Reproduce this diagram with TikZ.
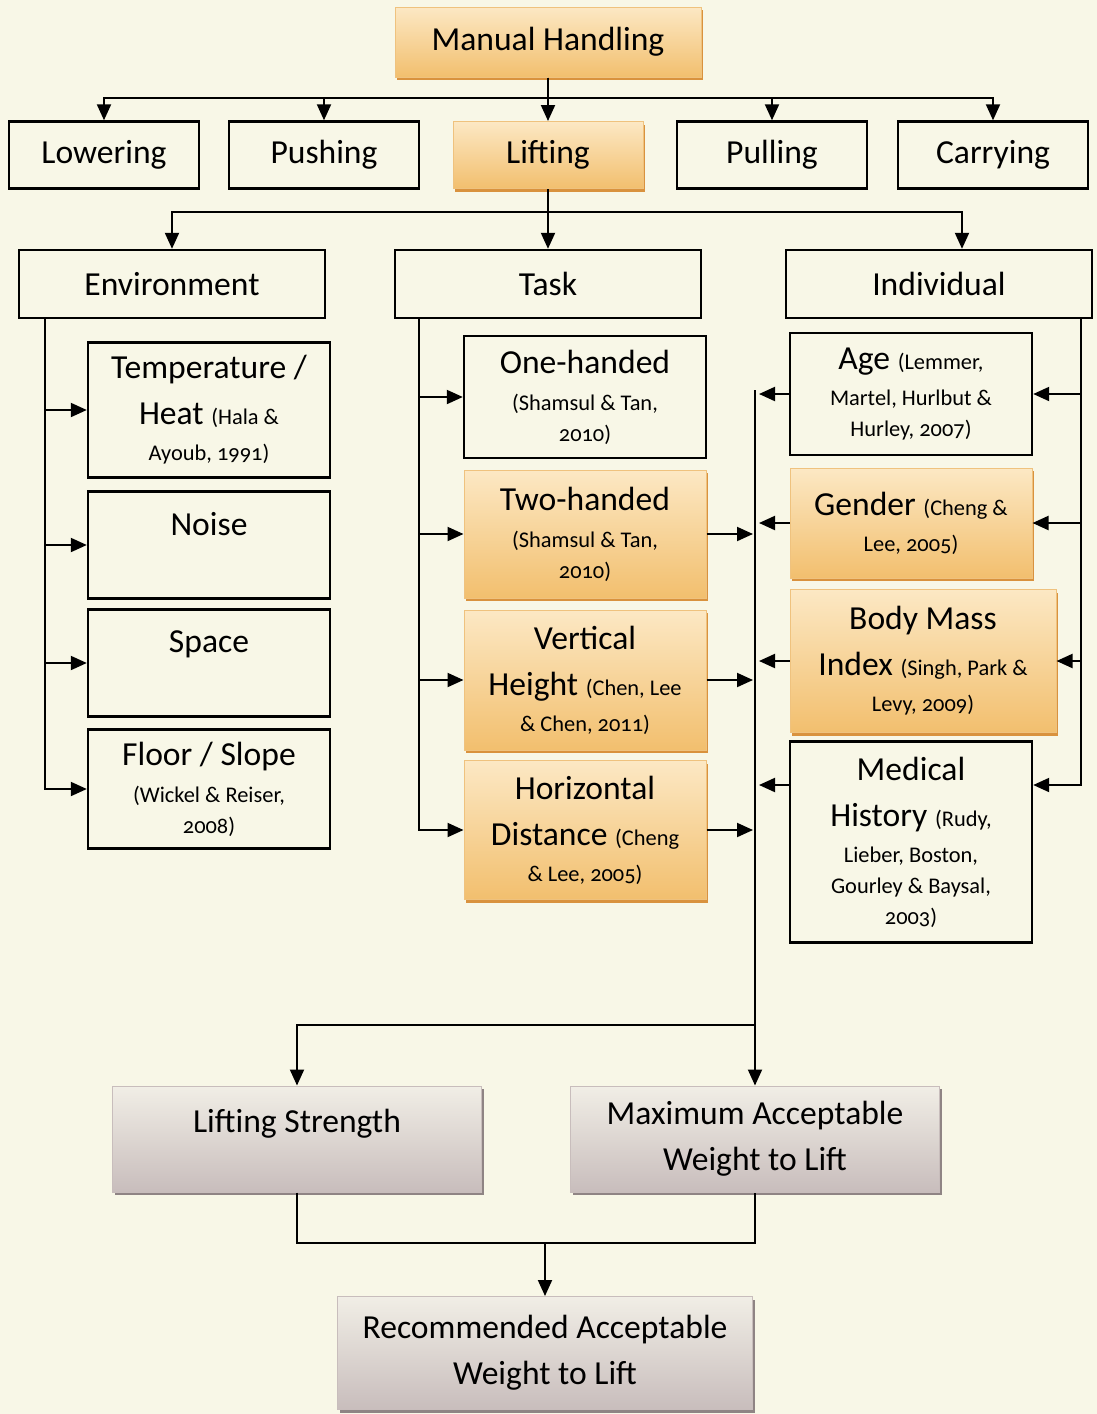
\documentclass[tikz,border=0pt]{standalone}
\usepackage{fontspec}
\setmainfont{Carlito}[Numbers=OldStyle]
\usetikzlibrary{arrows.meta,shadows}
\definecolor{paper}{HTML}{F8F7E7}
\definecolor{orTop}{HTML}{FCE8C4}
\definecolor{orBot}{HTML}{F2BF6E}
\definecolor{orEdge}{HTML}{EFC27E}
\definecolor{orShade}{HTML}{D9923E}
\definecolor{grTop}{HTML}{F1EEE6}
\definecolor{grBot}{HTML}{C8BDBC}
\definecolor{grShade}{HTML}{8F8484}
\newcommand{\src}{\fontsize{11.2}{15.5}\selectfont}

\begin{document}
\begin{tikzpicture}[x=0.5pt, y=-0.5pt,
  every node/.style={font=\fontsize{16.8}{23}\selectfont, align=center, inner sep=2pt},
  plain/.style={draw, line width=1.2pt},
  orbox/.style={draw=orEdge, line width=0.5pt, top color=orTop, bottom color=orBot,
    drop shadow={shadow xshift=1pt, shadow yshift=-1.5pt, fill=orShade, opacity=1}},
  grbox/.style={draw=grBot, line width=0.5pt, top color=grTop, bottom color=grBot,
    drop shadow={shadow xshift=1pt, shadow yshift=-1.5pt, fill=grShade, opacity=1}},
  tab/.style={minimum width=95pt, minimum height=33.5pt},
  wide/.style={minimum width=153pt, minimum height=34pt},
  leaf/.style={minimum width=121pt},
  arrow/.style={line width=1pt, -{Triangle[length=8pt,width=7pt]}},
  link/.style={line width=1pt}]
  \path[use as bounding box, fill=paper] (0,0) rectangle (1097,1414);

  \node[orbox, minimum width=153pt, minimum height=35pt] (mh) at (548,42) {Manual Handling};

  \node[plain, tab] (lower) at (104,155) {Lowering};
  \node[plain, tab] (push) at (324,155) {Pushing};
  \node[orbox, tab] (lift) at (548,155) {Lifting};
  \node[plain, tab] (pull) at (772,155) {Pulling};
  \node[plain, tab] (carry) at (993,155) {Carrying};

  \node[plain, wide] (env) at (172,284) {Environment};
  \node[plain, wide] (task) at (548,284) {Task};
  \node[plain, wide] (ind) at (939,284) {Individual};

  \node[plain, leaf, minimum height=67.5pt] (temp) at (209,410)
    {Temperature /\\ Heat \src(Hala \&\\[-5pt]\src Ayoub, 1991)};
  \node[plain, leaf, minimum height=53.5pt] (noise) at (209,545) {Noise\\[-1.5pt]\mbox{}};
  \node[plain, leaf, minimum height=53.5pt] (space) at (209,663) {Space\\[-1.5pt]\mbox{}};
  \node[plain, leaf, minimum height=59.5pt] (floor) at (209,789)
    {Floor / Slope\\[-4.5pt]\src (Wickel \& Reiser,\\[-7.5pt]\src 2008)};

  \node[plain, leaf, minimum height=61pt] (one) at (585,397)
    {One-handed\\[-4.5pt]\src (Shamsul \& Tan,\\[-7.5pt]\src 2010)};
  \node[orbox, leaf, minimum height=64pt] (two) at (585,534)
    {Two-handed\\[-4.5pt]\src (Shamsul \& Tan,\\[-7.5pt]\src 2010)};
  \node[orbox, leaf, minimum height=70pt] (vert) at (585,680)
    {Vertical\\ Height \src(Chen, Lee\\[-5pt]\src \& Chen, 2011)};
  \node[orbox, leaf, minimum height=69.5pt] (horiz) at (585,830)
    {Horizontal\\ Distance \src(Cheng\\[-5pt]\src \& Lee, 2005)};

  \node[plain, leaf, minimum height=61pt] (age) at (911,394)
    {Age \src(Lemmer,\\[-5pt]\src Martel, Hurlbut \&\\[-7.5pt]\src Hurley, 2007)};
  \node[orbox, leaf, minimum height=55pt] (gender) at (911,523)
    {Gender \src(Cheng \&\\[-5pt]\src Lee, 2005)};
  \node[orbox, minimum width=133pt, minimum height=71.5pt] (bmi) at (923,661)
    {Body Mass\\ Index \src(Singh, Park \&\\[-5pt]\src Levy, 2009)};
  \node[plain, leaf, minimum height=100.5pt] (med) at (911,842)
    {Medical\\ History \src(Rudy,\\[-5pt]\src Lieber, Boston,\\[-7.5pt]\src Gourley \& Baysal,\\[-7.5pt]\src 2003)};

  \node[grbox, minimum width=184.5pt, minimum height=53pt] (lstr) at (297,1139) {Lifting Strength\\[-5pt]\mbox{}};
  \node[grbox, minimum width=184.5pt, minimum height=53pt] (maxw) at (755,1139)
    {Maximum Acceptable\\ Weight to Lift};
  \node[grbox, minimum width=207.5pt, minimum height=56.5pt] (rec) at (545,1353)
    {Recommended Acceptable\\ Weight to Lift};

  \draw[link] (mh.south) -- ++(0,20) coordinate (topbar);
  \foreach \n in {lower,push,pull,carry} \draw[arrow] (topbar) -| (\n.north);
  \draw[arrow] (mh.south) -- (lift.north);

  \draw[link] (lift.south) -- ++(0,23) coordinate (midbar);
  \draw[arrow] (midbar) -| (env.north);
  \draw[arrow] (lift.south) -- (task.north);
  \draw[arrow] (midbar) -| ([xshift=11.5pt]ind.north);

  \foreach \n in {temp,noise,space,floor} \draw[arrow] ([xshift=13.5pt]env.south west) |- (\n.west);
  \foreach \n in {one,two,vert,horiz} \draw[arrow] ([xshift=12.5pt]task.south west) |- (\n.west);
  \foreach \n in {age,gender,bmi} \draw[arrow] ([xshift=-6pt]ind.south east) |- (\n.east);
  \draw[arrow] ([xshift=-6pt]ind.south east) |- ([yshift=28.5pt]med.east);

  \coordinate (col) at (755,390);
  \coordinate (split) at (755,1025);
  \coordinate (join) at (545,1243);
  \foreach \n in {age,gender,bmi} \draw[arrow, shorten >=2pt] (\n.west) -- (\n.west -| col);
  \draw[arrow, shorten >=2pt] ([yshift=28.5pt]med.west) -- ([yshift=28.5pt]med.west -| col);
  \foreach \n in {two,vert,horiz} \draw[arrow, shorten >=1pt] (\n.east) -- (\n.east -| col);
  \draw[link] (col) -- (split);
  \draw[arrow] (split) -- (maxw.north);
  \draw[arrow] (split) -| (lstr.north);

  \draw[link] (lstr.south) |- (join) -| (maxw.south);
  \draw[arrow] (join) -- (rec.north);
\end{tikzpicture}
\end{document}
